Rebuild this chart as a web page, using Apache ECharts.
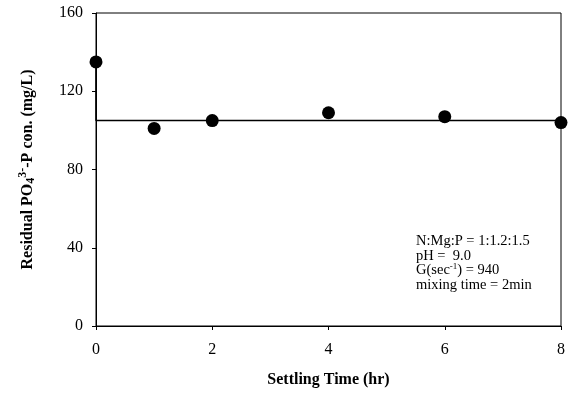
<!DOCTYPE html>
<html>
<head>
<meta charset="utf-8">
<script src="https://cdn.jsdelivr.net/npm/echarts@6/dist/echarts.min.js"></script>
<style>
  html, body { margin: 0; padding: 0; background: #fff; }
  #chart { width: 568px; height: 396px; }
</style>
</head>
<body>
<div id="chart"></div>
<script>
// Data
const settlingTime = [0, 1, 2, 4, 6, 8];
const residualPO4 = [135, 101, 105, 109, 107, 104];
// level line drawn through the points
const levelLine = [[0, 135], [0, 105], [8, 105]];
const xTicks = [0, 2, 4, 6, 8];
const yTicks = [0, 40, 80, 120, 160];

var chartDom = document.getElementById('chart');
var myChart = echarts.init(chartDom);
var option;

const serif = '"Liberation Serif", "DejaVu Serif", serif';

option = {
  animation: false,
  grid: {
    left: 96,
    right: 6,
    top: 13,
    bottom: 70,
    show: true,
    borderColor: '#000',
    borderWidth: 1
  },
  xAxis: {
    type: 'value',
    min: xTicks[0],
    max: xTicks[xTicks.length - 1],
    interval: 2,
    name: 'Settling Time (hr)',
    nameLocation: 'middle',
    nameGap: 46,
    nameTextStyle: { fontFamily: serif, fontWeight: 'bold', fontSize: 16, color: '#000' },
    axisLine: { lineStyle: { color: '#000', width: 1 } },
    axisTick: { show: true, length: 4, lineStyle: { color: '#000' } },
    axisLabel: { fontFamily: serif, fontSize: 16, color: '#000', margin: 16 },
    splitLine: { show: false }
  },
  yAxis: {
    type: 'value',
    min: yTicks[0],
    max: yTicks[yTicks.length - 1],
    interval: 40,
    name: '{a|Residual PO}{sub|4}{sup|3-}{a|-P con. (mg/L)}',
    nameLocation: 'middle',
    nameRotate: 90,
    nameGap: 58,
    nameTextStyle: {
      color: '#000',
      rich: {
        a: { fontFamily: serif, fontWeight: 'bold', fontSize: 16, color: '#000' },
        sub: { fontFamily: serif, fontWeight: 'bold', fontSize: 12, color: '#000', padding: [7, 0, 0, 0] },
        sup: { fontFamily: serif, fontWeight: 'bold', fontSize: 12, color: '#000', padding: [0, 0, 9, 0] }
      }
    },
    axisLine: { show: true, lineStyle: { color: '#000', width: 1 } },
    axisTick: { show: true, length: 4, lineStyle: { color: '#000' } },
    axisLabel: { fontFamily: serif, fontSize: 16, color: '#000', margin: 13 },
    splitLine: { show: false }
  },
  series: [
    {
      name: 'level',
      type: 'line',
      data: levelLine,
      symbol: 'none',
      lineStyle: { color: '#000', width: 1.5 },
      z: 2
    },
    {
      name: 'Residual PO4',
      type: 'scatter',
      data: settlingTime.map((t, i) => [t, residualPO4[i]]),
      symbol: 'circle',
      symbolSize: 13,
      itemStyle: { color: '#000', opacity: 1 },
      z: 3
    }
  ],
  graphic: [
    {
      type: 'text',
      left: 416,
      top: 234,
      style: {
        text: 'N:Mg:P = 1:1.2:1.5\npH =  9.0\n{a|G(sec}{s|-1}{a|) = 940}\nmixing time = 2min',
        font: '14.5px ' + serif,
        fill: '#000',
        lineHeight: 14.5,
        rich: {
          a: { fontFamily: serif, fontSize: 14.5, fill: '#000', lineHeight: 14.5 },
          s: { fontFamily: serif, fontSize: 9, fill: '#000', padding: [0, 0, 7, 0] }
        }
      }
    }
  ]
};

option && myChart.setOption(option);
</script>
</body>
</html>
